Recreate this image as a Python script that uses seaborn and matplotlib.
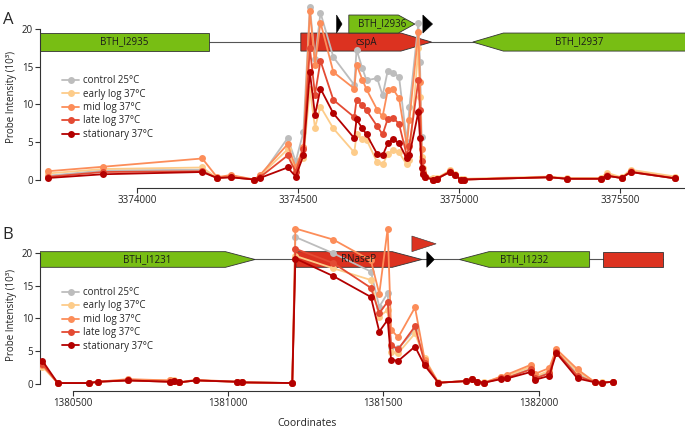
import matplotlib
matplotlib.use("Agg")
import matplotlib.pyplot as plt
from matplotlib.patches import Polygon
import pandas as pd
import seaborn as sns

# conditions and colours
conditions = ["control 25°C", "early log 37°C", "mid log 37°C", "late log 37°C", "stationary 37°C"]
palette = ["#bdbdbd", "#fdcc8a", "#fc8d59", "#e34a33", "#b30000"]

# panel A probes (cspA region)
coord_a = [3373723, 3373895, 3374203, 3374249, 3374291, 3374364, 3374382, 3374468, 3374493, 3374517,
           3374537, 3374553, 3374570, 3374610, 3374675, 3374682, 3374700, 3374713, 3374746, 3374763,
           3374779, 3374796, 3374814, 3374838, 3374846, 3374874, 3374879, 3374884, 3374889, 3374896,
           3374920, 3374931, 3374972, 3374988, 3375005, 3375016, 3375280, 3375336, 3375440, 3375459,
           3375505, 3375533, 3375671]
control_a = [0.5, 1.2, 1.3, 0.2, 0.4, 0.0, 0.3, 5.5, 2.4, 6.3,
             23.0, 16.0, 22.2, 16.3, 12.6, 17.3, 14.8, 13.2, 13.5, 11.2,
             14.5, 14.2, 13.7, 5.0, 9.6, 20.8, 15.6, 5.7, 1.0, 0.3,
             0.0, 0.1, 1.0, 0.6, 0.0, 0.0, 0.3, 0.1, 0.1, 0.5,
             0.2, 1.0, 0.15]
early_a = [0.8, 1.4, 1.6, 0.2, 0.5, 0.0, 0.5, 4.0, 1.2, 2.9,
           12.0, 6.9, 9.7, 6.8, 3.6, 6.0, 5.4, 5.3, 2.3, 2.0,
           3.4, 3.9, 3.6, 2.0, 2.6, 17.5, 11.0, 3.0, 1.5, 0.5,
           0.2, 0.2, 1.2, 0.7, 0.1, 0.1, 0.4, 0.2, 0.2, 0.9,
           0.3, 1.3, 0.4]
mid_a = [1.1, 1.7, 2.8, 0.3, 0.6, 0.0, 0.6, 4.7, 1.6, 4.3,
         22.5, 15.3, 20.9, 14.3, 12.1, 15.3, 13.3, 12.0, 9.3, 8.4,
         11.9, 12.0, 10.8, 4.5, 7.9, 19.6, 13.0, 4.0, 1.0, 0.3,
         0.0, 0.1, 1.1, 0.6, 0.0, 0.0, 0.3, 0.1, 0.1, 0.6,
         0.2, 1.1, 0.2]
late_a = [0.35, 1.0, 1.1, 0.2, 0.3, 0.0, 0.3, 3.2, 1.0, 4.0,
          17.5, 11.3, 15.8, 10.6, 8.3, 10.6, 9.9, 9.2, 7.1, 6.0,
          8.1, 8.2, 7.4, 3.2, 4.5, 13.2, 9.2, 2.5, 0.8, 0.3,
          0.0, 0.1, 1.0, 0.6, 0.0, 0.0, 0.3, 0.1, 0.1, 0.5,
          0.2, 1.0, 0.15]
stat_a = [0.2, 0.7, 1.0, 0.2, 0.3, 0.0, 0.2, 1.6, 0.4, 3.2,
          14.3, 8.6, 12.1, 8.8, 5.5, 8.0, 6.8, 6.0, 3.4, 3.2,
          4.8, 5.4, 4.8, 2.8, 3.2, 9.0, 5.5, 1.5, 0.8, 0.3,
          0.0, 0.1, 1.0, 0.6, 0.0, 0.0, 0.3, 0.1, 0.1, 0.5,
          0.2, 1.0, 0.15]

# panel A genes
gene_a_names = ["BTH_I2935", "cspA", "BTH_I2936", "BTH_I2937"]
gene_a_start = [3373699, 3374509, 3374658, 3375043]
gene_a_end = [3374224, 3374915, 3374863, 3375705]
gene_a_strand = [0, 1, 1, -1]
gene_a_row = [0, 0, 1, 0]
gene_a_target = [False, True, False, False]
term_a_start = [3374620, 3374888]
term_a_end = [3374637, 3374918]
term_a_row = [1, 1]
term_a_target = [None, None]

# panel B probes (RNaseP region)
coord_b = [1380403, 1380452, 1380553, 1380582, 1380679, 1380813, 1380827, 1380842, 1380897, 1381028,
           1381046, 1381207, 1381217, 1381339, 1381460, 1381487, 1381514, 1381525, 1381548, 1381602,
           1381633, 1381677, 1381766, 1381785, 1381801, 1381824, 1381879, 1381898, 1381975, 1381988,
           1382034, 1382057, 1382125, 1382182, 1382203, 1382240]
control_b = [2.9, 0.1, 0.1, 0.3, 0.5, 0.3, 0.4, 0.2, 0.5, 0.3,
             0.2, 0.1, 22.5, 20.0, 17.2, 11.8, 13.9, 5.7, 5.4, 8.3,
             3.7, 0.15, 0.4, 0.7, 0.3, 0.15, 0.9, 1.0, 2.3, 0.9,
             1.8, 5.0, 1.5, 0.2, 0.15, 0.3]
early_b = [2.6, 0.1, 0.1, 0.3, 0.6, 0.5, 0.5, 0.2, 0.5, 0.3,
           0.2, 0.1, 19.6, 17.7, 15.9, 10.3, 11.3, 4.9, 4.7, 7.7,
           3.9, 0.2, 0.4, 0.7, 0.3, 0.2, 1.0, 1.2, 2.6, 1.1,
           2.0, 5.1, 1.9, 0.2, 0.2, 0.3]
mid_b = [2.8, 0.1, 0.1, 0.3, 0.7, 0.5, 0.4, 0.2, 0.6, 0.3,
         0.2, 0.1, 23.8, 22.1, 18.9, 13.8, 23.8, 8.3, 7.1, 11.7,
         3.7, 0.15, 0.4, 0.7, 0.3, 0.15, 1.1, 1.4, 2.9, 1.5,
         2.4, 5.3, 2.2, 0.2, 0.15, 0.3]
late_b = [3.0, 0.1, 0.1, 0.3, 0.5, 0.3, 0.4, 0.2, 0.5, 0.3,
          0.2, 0.1, 20.7, 18.5, 14.7, 10.8, 12.6, 5.9, 5.3, 8.8,
          3.2, 0.15, 0.4, 0.7, 0.3, 0.15, 0.8, 0.9, 2.2, 0.8,
          1.6, 4.9, 1.2, 0.2, 0.15, 0.3]
stat_b = [3.5, 0.1, 0.1, 0.3, 0.5, 0.3, 0.4, 0.2, 0.5, 0.3,
          0.2, 0.1, 19.2, 16.5, 13.3, 8.0, 9.8, 3.7, 3.5, 5.7,
          2.8, 0.15, 0.4, 0.7, 0.3, 0.15, 0.7, 0.8, 1.8, 0.6,
          1.2, 4.7, 0.8, 0.2, 0.15, 0.3]

# panel B genes
gene_b_names = ["BTH_I1231", "RNaseP", "BTH_I1232", ""]
gene_b_start = [1380395, 1381219, 1381745, 1382207]
gene_b_end = [1381087, 1381624, 1382164, 1382399]
gene_b_strand = [1, 1, -1, 0]
gene_b_row = [0, 0, 0, 0]
gene_b_target = [False, True, False, True]
term_b_start = [1381640, 1381592]
term_b_end = [1381664, 1381670]
term_b_row = [0, 1]
term_b_target = [None, True]

GREEN = "#78be14"
RED = "#dc3220"
EDGE = "#333333"
GENE_H = 2.4


def long_frame(coord, series):
    frames = []
    for name, vals in zip(conditions, series):
        frames.append(pd.DataFrame({"coord": coord, "value": vals, "condition": name}))
    return pd.concat(frames, ignore_index=True)


def draw_track(ax, names, starts, ends, strands, rows, targets, y0):
    ax.plot([ax.get_xlim()[0], max(ends)], [y0, y0], color="#555555", lw=0.8, zorder=1)
    h = GENE_H
    for name, s, e, strand, row, tgt in zip(names, starts, ends, strands, rows, targets):
        y = y0 + row * h
        head = min(95, 0.25 * (e - s))
        if strand == 1:
            pts = [(s, y - h / 2), (e - head, y - h / 2), (e, y), (e - head, y + h / 2), (s, y + h / 2)]
        elif strand == -1:
            pts = [(s, y), (s + head, y - h / 2), (e, y - h / 2), (e, y + h / 2), (s + head, y + h / 2)]
        else:
            pts = [(s, y - h / 2), (e, y - h / 2), (e, y + h / 2), (s, y + h / 2)]
        ax.add_patch(Polygon(pts, closed=True, fc=RED if tgt else GREEN, ec=EDGE, lw=0.6, zorder=2))
        if name:
            ax.text((s + e) / 2, y, name, ha="center", va="center", fontsize=7,
                    color="#1a1a1a", zorder=6)


def draw_terms(ax, starts, ends, rows, targets, y0):
    h = GENE_H
    for s, e, row, tgt in zip(starts, ends, rows, targets):
        y = y0 + row * h
        pts = [(s, y - h / 2), (e, y), (s, y + h / 2)]
        fc = RED if tgt else "black"
        ax.add_patch(Polygon(pts, closed=True, fc=fc, ec=fc if tgt is None else EDGE, lw=0.4, zorder=2))


def panel(ax, coord, series, xlim, ylim, xticks, spine_end, legend_y, label_y):
    ax.set_xlim(*xlim)
    ax.set_ylim(*ylim)
    df = long_frame(coord, series)
    n0 = len(ax.lines)
    sns.lineplot(data=df, x="coord", y="value", hue="condition", hue_order=conditions,
                 palette=palette, marker="o", markersize=5, markeredgewidth=0,
                 linewidth=1.3, estimator=None, sort=False, legend=False, ax=ax, zorder=4)
    handles = ax.lines[n0:]
    ax.legend(handles, conditions, loc="upper left", bbox_to_anchor=(0.034, legend_y),
              frameon=False, fontsize=7, handlelength=1.8, handletextpad=0.4,
              labelspacing=0.25, borderpad=0, borderaxespad=0)
    ax.set_xticks(xticks)
    ax.set_xticklabels([str(t) for t in xticks])
    ax.set_yticks([0, 5, 10, 15, 20])
    ax.spines["top"].set_visible(False)
    ax.spines["right"].set_visible(False)
    ax.spines["left"].set_bounds(0, 20)
    ax.spines["bottom"].set_bounds(xticks[0], spine_end)
    for sp in ("left", "bottom"):
        ax.spines[sp].set_linewidth(0.8)
        ax.spines[sp].set_color(EDGE)
    ax.tick_params(direction="out", length=3.6, width=0.8, labelsize=7, pad=1.5, colors=EDGE,
                   labelcolor="#222222")
    ax.set_xlabel("")
    ax.set_ylabel("Probe Intensity (10³)", fontsize=7, color="#222222")
    ax.yaxis.set_label_coords(-0.0357, label_y)


sns.set_style("ticks")
plt.rcParams["font.family"] = ["Open Sans", "DejaVu Sans"]

fig = plt.figure(figsize=(6.85, 4.28), dpi=100)
ax_a = fig.add_axes([40 / 685, 1 - 188 / 428, 645 / 685, 188 / 428])
ax_b = fig.add_axes([40 / 685, 37 / 428, 645 / 685, 169 / 428])

panel(ax_a, coord_a, [control_a, early_a, mid_a, late_a, stat_a],
      (3373699, 3375702), (-1.13, 23.9), [3374000, 3374500, 3375000, 3375500], 3375702, 0.60, 0.484)
draw_track(ax_a, gene_a_names, gene_a_start, gene_a_end, gene_a_strand, gene_a_row, gene_a_target, 18.3)
draw_terms(ax_a, term_a_start, term_a_end, term_a_row, term_a_target, 18.3)

panel(ax_b, coord_b, [control_b, early_b, mid_b, late_b, stat_b],
      (1380395, 1382471), (-1.12, 24.8), [1380500, 1381000, 1381500, 1382000], 1382000, 0.615, 0.45)
draw_track(ax_b, gene_b_names, gene_b_start, gene_b_end, gene_b_strand, gene_b_row, gene_b_target, 19.05)
draw_terms(ax_b, term_b_start, term_b_end, term_b_row, term_b_target, 19.05)
ax_b.set_xlabel("Coordinates", fontsize=7.5, color="#222222")
ax_b.xaxis.set_label_coords(0.414, -0.16)

fig.text(0.004, 1 - 20 / 428, "A", fontsize=12, va="center", ha="left")
fig.text(0.004, 1 - 235 / 428, "B", fontsize=12, va="center", ha="left")

fig.savefig("out.png", dpi=100)
